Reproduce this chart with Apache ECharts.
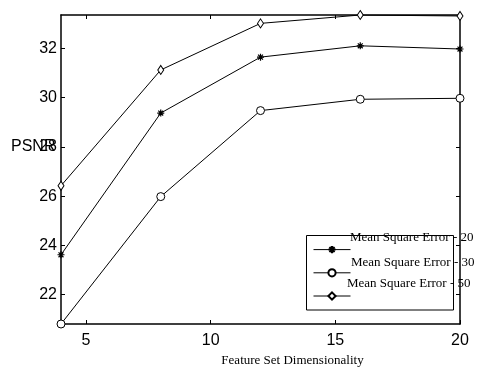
<!DOCTYPE html>
<html><head><meta charset="utf-8">
<script src="https://cdn.jsdelivr.net/npm/echarts@6/dist/echarts.min.js"></script>
<style>html,body{margin:0;padding:0;background:#fff}#c{width:481px;height:367px}</style>
</head><body><div id="c"></div>
<script>
const dims = [4, 8, 12, 16, 20];
const mse20 = [23.62, 29.37, 31.64, 32.10, 31.97];
const mse30 = [20.81, 25.98, 29.47, 29.93, 29.97];
const mse50 = [26.42, 31.12, 33.01, 33.35, 33.31];
const seriesNames = ['Mean Square Error - 20', 'Mean Square Error - 30', 'Mean Square Error - 50'];
const xTicks = [5, 10, 15, 20];
const yTicks = [22, 24, 26, 28, 30, 32];
const xRange = [4, 20];
const yRange = [20.81, 33.35];

const STAR = 'path://M0,-4L0,4M-4,0L4,0M-2.8,-2.8L2.8,2.8M-2.8,2.8L2.8,-2.8';
const sans = 'Liberation Sans';
const serif = 'Liberation Serif';

function pairs(vals) { return dims.map((d, i) => [d, vals[i]]); }

const chart = echarts.init(document.getElementById('c'), null, {renderer: 'canvas'});
const axisLine = {show: true, lineStyle: {color: '#000', width: 1.5}};
const tick = (vals) => ({show: true, inside: true, length: 4, lineStyle: {color: '#000', width: 1}, customValues: vals});

const option = {
  animation: false,
  backgroundColor: '#fff',
  color: ['#000'],
  grid: {left: 61, right: 21, top: 15, bottom: 43, containLabel: false, outerBoundsMode: 'none'},
  xAxis: [
    {type: 'value', position: 'bottom', min: xRange[0], max: xRange[1],
     axisLine: axisLine, axisTick: tick(xTicks), splitLine: {show: false},
     axisLabel: {customValues: xTicks, margin: 9, color: '#000', fontFamily: sans, fontSize: 16},
     name: 'Feature Set Dimensionality', nameLocation: 'middle', nameGap: 27,
     nameTextStyle: {fontFamily: serif, fontSize: 13, color: '#000', padding: [0, 0, 0, 64]}},
    {type: 'value', position: 'top', min: xRange[0], max: xRange[1],
     axisLine: axisLine, axisTick: tick(xTicks), splitLine: {show: false}, axisLabel: {show: false}}
  ],
  yAxis: [
    {type: 'value', position: 'left', min: yRange[0], max: yRange[1],
     axisLine: axisLine, axisTick: tick(yTicks), splitLine: {show: false},
     axisLabel: {customValues: yTicks, margin: 4, color: '#000', fontFamily: sans, fontSize: 16}},
    {type: 'value', position: 'right', min: yRange[0], max: yRange[1],
     axisLine: axisLine, axisTick: tick(yTicks), splitLine: {show: false}, axisLabel: {show: false}}
  ],
  legend: {
    orient: 'vertical', left: 313, top: 245, padding: 0,
    itemWidth: 37, itemHeight: 9, itemGap: 14,
    formatter: () => '', textStyle: {fontSize: 9},
    lineStyle: {width: 1},
    selectedMode: false,
    data: seriesNames
  },
  graphic: [
    {type: 'rect', z: 0, shape: {x: 306.5, y: 235.5, width: 147, height: 74.5},
     style: {fill: '#fff', stroke: '#000', lineWidth: 1}},
    {type: 'text', z: 10, left: 350, top: 231, style: {text: seriesNames[0], font: '13px "Liberation Serif"', fill: '#000'}},
    {type: 'text', z: 10, left: 351, top: 256, style: {text: seriesNames[1], font: '13px "Liberation Serif"', fill: '#000'}},
    {type: 'text', z: 10, left: 347, top: 277, style: {text: seriesNames[2], font: '13px "Liberation Serif"', fill: '#000'}},
    {type: 'text', z: 10, left: 11, top: 139, style: {text: 'PSNR', font: '16px "Liberation Sans"', fill: '#000'}}
  ],
  series: [
    {name: seriesNames[0], type: 'line', data: pairs(mse20), symbol: STAR, symbolSize: 7, symbolKeepAspect: true,
     lineStyle: {color: '#000', width: 1}, itemStyle: {color: '#000', borderColor: '#000', borderWidth: 1.2}},
    {name: seriesNames[1], type: 'line', data: pairs(mse30), symbol: 'circle', symbolSize: 8,
     lineStyle: {color: '#000', width: 1}, itemStyle: {color: '#fff', borderColor: '#000', borderWidth: 1}},
    {name: seriesNames[2], type: 'line', data: pairs(mse50), symbol: 'diamond', symbolSize: [6, 9],
     lineStyle: {color: '#000', width: 1}, itemStyle: {color: '#fff', borderColor: '#000', borderWidth: 1}}
  ]
};
chart.setOption(option);
</script>
</body></html>
